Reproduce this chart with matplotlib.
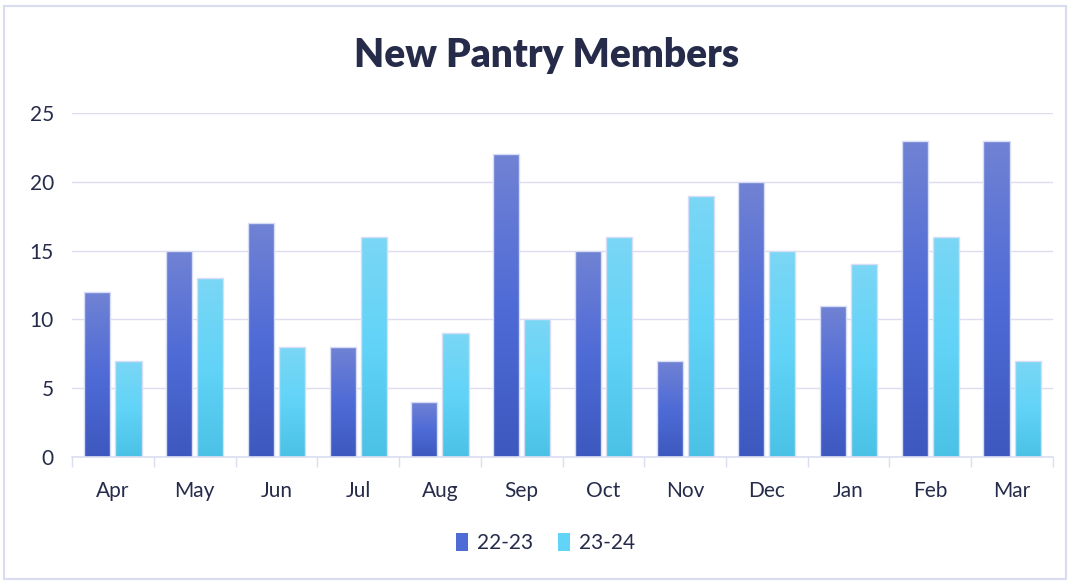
import matplotlib.pyplot as plt
import numpy as np
from matplotlib.patches import Rectangle

months = ["Apr", "May", "Jun", "Jul", "Aug", "Sep", "Oct", "Nov", "Dec", "Jan", "Feb", "Mar"]
fy2223 = [12, 15, 17, 8, 4, 22, 15, 7, 20, 11, 23, 23]
fy2324 = [7, 13, 8, 16, 9, 10, 16, 19, 15, 14, 16, 7]
series_names = ["22-23", "23-24"]

plt.rcParams['font.family'] = ['Lato', 'DejaVu Sans']
text_col = "#262B4A"
grid_col = "#DCDEF0"

fig = plt.figure(figsize=(10.69, 5.81), dpi=100)
ax = fig.add_axes([0.0674, 0.2134, 0.9176, 0.5921])

# gradients: top colour -> bottom colour
grad_a = [(0.44, 0.51, 0.83), (0.31, 0.42, 0.84), (0.24, 0.35, 0.75)]
grad_b = [(0.48, 0.84, 0.96), (0.38, 0.83, 0.97), (0.29, 0.76, 0.90)]

def gradient_img(cols):
    n = 64
    t = np.linspace(0, 1, n)
    img = np.zeros((n, 1, 3))
    for k in range(3):
        img[:, 0, k] = np.interp(t, [0, 0.5, 1], [cols[0][k], cols[1][k], cols[2][k]])
    return img

def draw_bars(xs, vals, w, cols):
    img = gradient_img(cols)
    for x, v in zip(xs, vals):
        rect = Rectangle((x - w / 2, 0), w, v, facecolor='none',
                         edgecolor='#D8DDF6', linewidth=1.0, zorder=3)
        ax.add_patch(rect)
        im = ax.imshow(img, extent=(x - w / 2, x + w / 2, 0, v), origin='upper',
                       aspect='auto', zorder=2, interpolation='bilinear')
        im.set_clip_path(rect)

x = np.arange(len(months))
w = 0.32
draw_bars(x - 0.19, fy2223, w, grad_a)
draw_bars(x + 0.19, fy2324, w, grad_b)

ax.set_xlim(-0.5, len(months) - 0.5)
ax.set_ylim(0, 25)
ax.set_yticks([0, 5, 10, 15, 20, 25])
ax.set_xticks(x)
ax.set_xticklabels(months)
ax.set_xticks(np.arange(-0.5, len(months)), minor=True)
ax.tick_params(axis='x', which='major', length=0, pad=17, labelsize=15, labelcolor=text_col)
ax.tick_params(axis='x', which='minor', length=7, color=grid_col, width=1)
ax.tick_params(axis='y', length=0, pad=13, labelsize=15, labelcolor=text_col)
ax.grid(axis='y', color=grid_col, linewidth=1, zorder=0)
ax.set_axisbelow(True)
for s in ['top', 'right', 'left']:
    ax.spines[s].set_visible(False)
ax.spines['bottom'].set_color(grid_col)
ax.spines['bottom'].set_linewidth(1.2)

fig.text(0.511, 0.905, "New Pantry Members", ha='center', va='center',
         fontsize=28, fontweight='heavy', color=text_col)

handles = [Rectangle((0, 0), 1, 1, facecolor=grad_a[1]),
           Rectangle((0, 0), 1, 1, facecolor=grad_b[1])]
fig.legend(handles, series_names, loc='center', bbox_to_anchor=(0.51, 0.065), ncol=2,
           frameon=False, fontsize=15, labelcolor=text_col, handlelength=0.6,
           handleheight=0.9, handletextpad=0.4, columnspacing=1.2)

fig.patches.append(Rectangle((0.004, 0.003), 0.993, 0.987, transform=fig.transFigure,
                             fill=False, edgecolor='#D9DCEF', linewidth=1.5))

fig.savefig("out.png", dpi=100)
